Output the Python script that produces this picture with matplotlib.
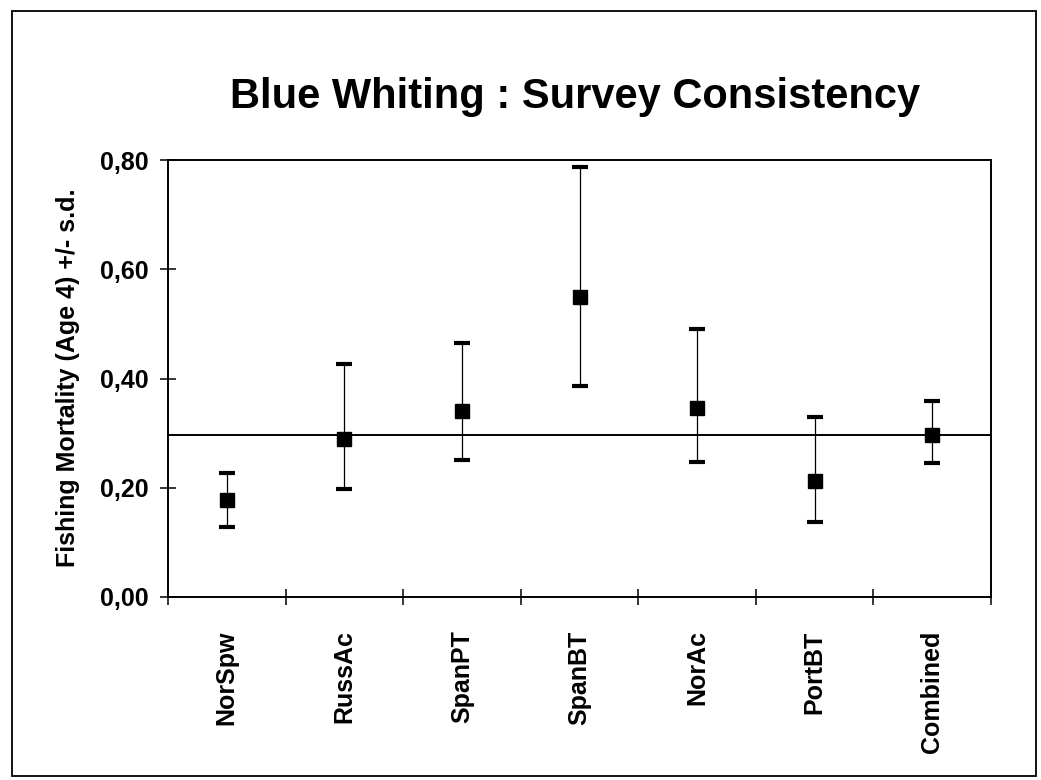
"""Survey consistency plot: fishing mortality at age 4 with +/- s.d. per survey"""

import matplotlib
matplotlib.use('Agg')
import matplotlib.pyplot as plt
from matplotlib.patches import Rectangle
import numpy as np

plt.rcParams['font.family'] = ['Liberation Sans', 'DejaVu Sans']

surveys = ['NorSpw', 'RussAc', 'SpanPT', 'SpanBT', 'NorAc', 'PortBT', 'Combined']
f_age4 = [0.178, 0.290, 0.340, 0.550, 0.346, 0.213, 0.296]
f_upper = [0.227, 0.427, 0.465, 0.787, 0.490, 0.329, 0.359]
f_lower = [0.129, 0.198, 0.250, 0.387, 0.248, 0.138, 0.245]
f_reference = 0.297

y_ticks = [0.0, 0.2, 0.4, 0.6, 0.8]
y_tick_labels = ['0,00', '0,20', '0,40', '0,60', '0,80']

title = 'Blue Whiting : Survey Consistency'
y_label = 'Fishing Mortality (Age 4) +/- s.d.'


def draw_consistency(ax):
  x = np.arange(len(surveys))
  mean = np.array(f_age4)
  yerr = [mean - np.array(f_lower), np.array(f_upper) - mean]
  ax.axhline(f_reference, color='k', lw=1.4, zorder=1)
  ax.errorbar(x, mean, yerr=yerr, fmt='s', color='k', ms=10.5, mec='k',
              elinewidth=0.9, capsize=5.5, capthick=3, zorder=3)

  ax.set_xlim(-0.5, len(surveys) - 0.5)
  ax.set_ylim(0, 0.8)
  ax.set_yticks(y_ticks)
  ax.set_yticklabels(y_tick_labels, fontsize=18, fontweight='bold')
  # ticks sit on the category boundaries, labels in between
  ax.set_xticks(np.arange(len(surveys) + 1) - 0.5)
  ax.set_xticklabels([])
  ax.set_xticks(x, minor=True)
  ax.set_xticklabels(surveys, minor=True, rotation=90, fontsize=18, fontweight='bold',
                     va='top', ha='center')
  ax.tick_params(axis='both', which='major', direction='inout', length=12, width=1.1, color='k')
  ax.tick_params(axis='y', which='major', pad=8)
  ax.tick_params(axis='x', which='minor', length=0, pad=24)
  for sp in ax.spines.values():
    sp.set_linewidth(1.4)
    sp.set_color('k')


fig = plt.figure(figsize=(10.41, 7.8), dpi=100)
ax = fig.add_axes([168 / 1041, 1 - 597 / 780, (991 - 168) / 1041, (597 - 160) / 780])
draw_consistency(ax)

fig.text(575 / 1041, 1 - 97 / 780, title, ha='center', va='center', fontsize=30,
         fontweight='bold')
fig.text(68 / 1041, 1 - 378 / 780, y_label, ha='center', va='center', rotation=90,
         fontsize=18, fontweight='bold')

# page frame round the whole figure
fig.patches.append(Rectangle((12 / 1041, 4 / 780), 1024 / 1041, 765 / 780,
                             transform=fig.transFigure, fill=False, lw=1.3, ec='k'))

fig.savefig('out.png', dpi=100)
